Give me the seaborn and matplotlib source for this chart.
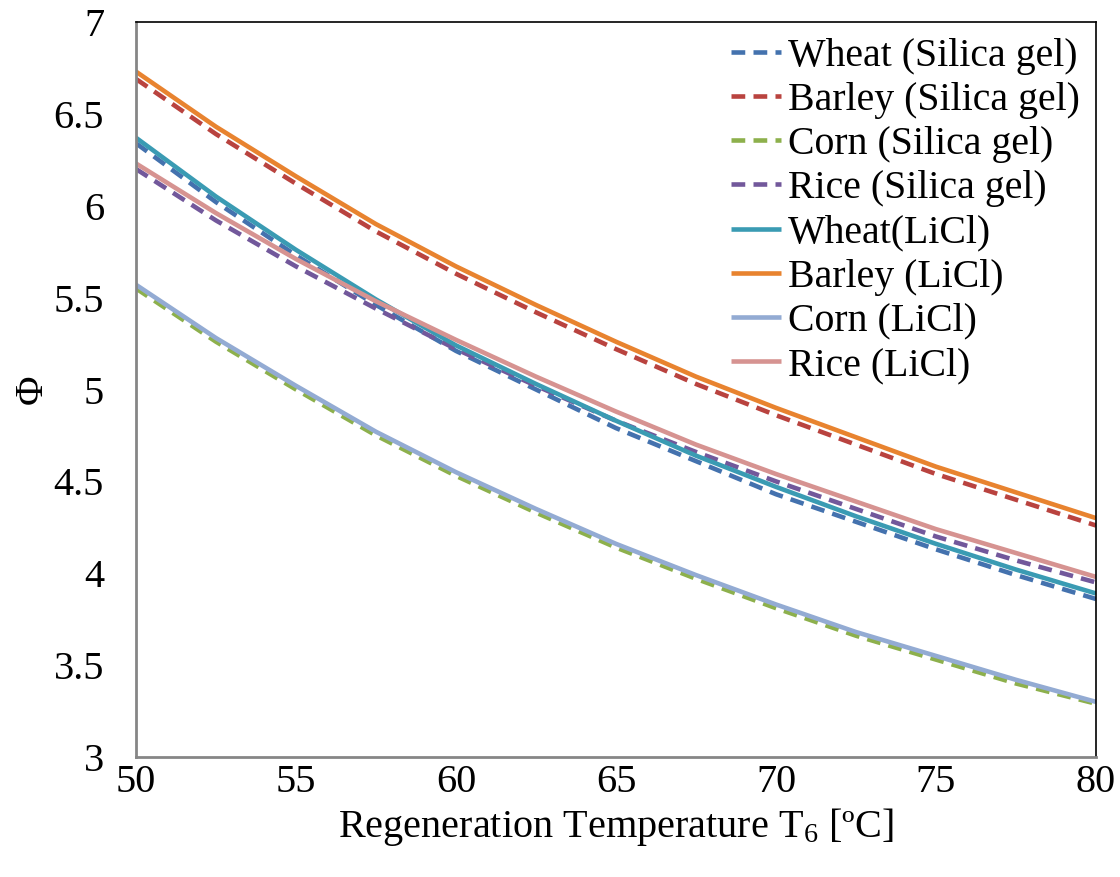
import matplotlib
matplotlib.use("Agg")
import matplotlib.pyplot as plt
import seaborn as sns
import pandas as pd

# ---- data ----
temperature = [50, 52.5, 55, 57.5, 60, 62.5, 65, 67.5, 70, 72.5, 75, 77.5, 80]

wheat_silica = [6.34, 6.02, 5.73, 5.46, 5.21, 5.00, 4.79, 4.61, 4.43, 4.28, 4.13, 3.99, 3.86]
barley_silica = [6.69, 6.39, 6.12, 5.86, 5.63, 5.42, 5.22, 5.03, 4.86, 4.70, 4.54, 4.40, 4.26]
corn_silica = [5.55, 5.26, 5.00, 4.75, 4.53, 4.33, 4.14, 3.97, 3.81, 3.66, 3.53, 3.40, 3.29]
rice_silica = [6.20, 5.92, 5.67, 5.44, 5.22, 5.02, 4.83, 4.66, 4.50, 4.35, 4.20, 4.07, 3.95]
wheat_licl = [6.37, 6.05, 5.76, 5.49, 5.24, 5.03, 4.83, 4.64, 4.47, 4.31, 4.16, 4.02, 3.89]
barley_licl = [6.73, 6.43, 6.16, 5.90, 5.67, 5.46, 5.26, 5.07, 4.90, 4.74, 4.58, 4.44, 4.30]
corn_licl = [5.57, 5.28, 5.02, 4.77, 4.55, 4.35, 4.16, 3.99, 3.83, 3.68, 3.55, 3.42, 3.30]
rice_licl = [6.23, 5.96, 5.71, 5.48, 5.27, 5.07, 4.88, 4.70, 4.54, 4.39, 4.24, 4.11, 3.98]

series_labels = ["Wheat (Silica gel)", "Barley (Silica gel)", "Corn (Silica gel)",
                 "Rice (Silica gel)", "Wheat(LiCl)", "Barley (LiCl)",
                 "Corn (LiCl)", "Rice (LiCl)"]
series_values = [wheat_silica, barley_silica, corn_silica, rice_silica,
                 wheat_licl, barley_licl, corn_licl, rice_licl]

x_ticks = [50, 55, 60, 65, 70, 75, 80]
y_ticks = [3, 3.5, 4, 4.5, 5, 5.5, 6, 6.5, 7]
y_tick_labels = ["3", "3.5", "4", "4.5", "5", "5.5", "6", "6.5", "7"]

# ---- styling ----
colors = ["#4472AE", "#B9433F", "#8DB04C", "#72589B",
          "#3A9BB3", "#E8832F", "#93ABD3", "#D69391"]
dashed = [True, True, True, True, False, False, False, False]

sns.set_theme(style="white")
plt.rcParams["font.family"] = ["Liberation Serif", "DejaVu Serif"]
plt.rcParams["mathtext.fontset"] = "custom"
plt.rcParams["mathtext.rm"] = "Liberation Serif"
plt.rcParams["mathtext.it"] = "Liberation Serif:italic"
plt.rcParams["text.color"] = "black"
plt.rcParams["axes.labelcolor"] = "black"

fig = plt.figure(figsize=(11.2, 8.77), dpi=100)
ax = fig.add_axes([136 / 1120, 1 - 757 / 877, 960 / 1120, 735 / 877])

for lab, vals, col, dsh in zip(series_labels, series_values, colors, dashed):
    df = pd.DataFrame({"T": temperature, "phi": vals})
    sns.lineplot(data=df, x="T", y="phi", ax=ax, color=col, linewidth=3.3,
                 label=lab, legend=False)
    ln = ax.lines[-1]
    if dsh:
        ln.set_linestyle((0, (3.0, 1.8)))
    ln.set_solid_capstyle("butt")
    ln.set_dash_capstyle("butt")

ax.set_xlim(50, 80)
ax.set_ylim(3, 7)
ax.set_xticks(x_ticks)
ax.set_xticklabels([str(t) for t in x_ticks])
ax.set_yticks(y_ticks)
ax.set_yticklabels(y_tick_labels)
ax.tick_params(axis="both", labelsize=29, length=0, colors="black")
ax.tick_params(axis="x", pad=5)
ax.tick_params(axis="y", pad=23)

ax.set_xlabel(r"Regeneration Temperature T$_{\mathregular{6}}$ [ºC]", fontsize=29,
              labelpad=4, color="black")
ax.set_ylabel("Φ", fontsize=29, labelpad=2, color="black")

for side in ["left", "bottom"]:
    ax.spines[side].set_color("#868686")
    ax.spines[side].set_linewidth(2.0)
for side in ["top", "right"]:
    ax.spines[side].set_color("black")
    ax.spines[side].set_linewidth(1.2)
ax.grid(False)

leg = ax.legend(loc="upper right", bbox_to_anchor=(1.0, 1.0), frameon=False,
                fontsize=28.6, handlelength=1.26, handletextpad=0.18,
                labelspacing=0.18, borderaxespad=0.0)
for h in leg.get_lines():
    h.set_linewidth(3.3)
for t in leg.get_texts():
    t.set_color("black")

fig.savefig("out.png", dpi=100)
